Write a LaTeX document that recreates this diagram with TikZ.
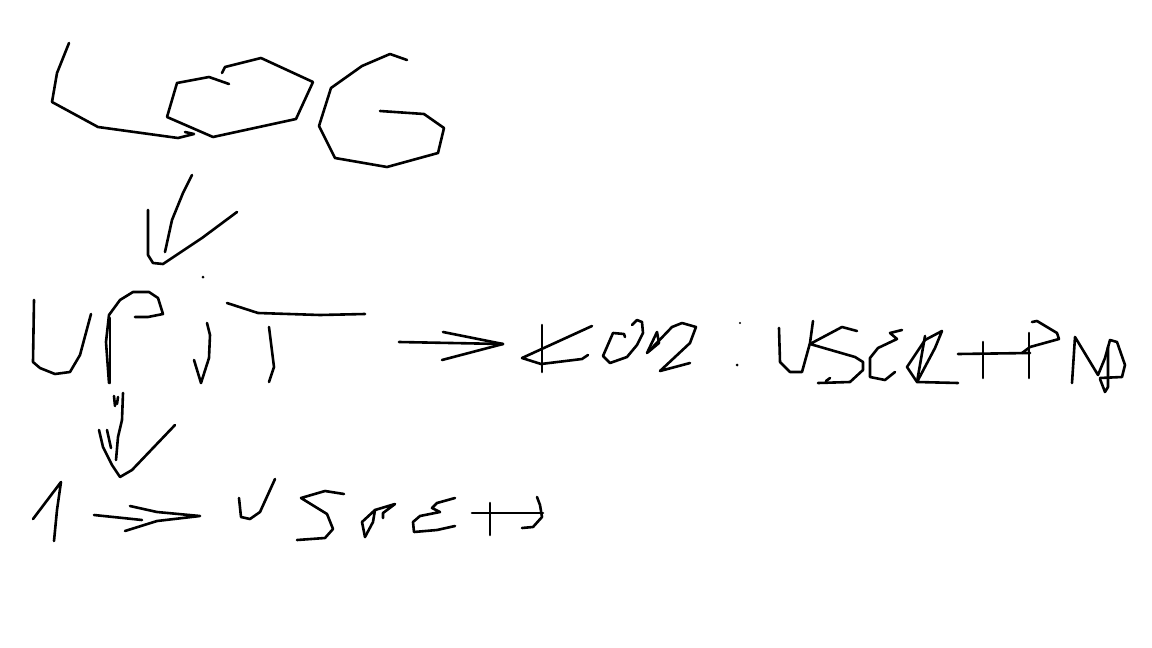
\documentclass[tikz,border=0pt]{standalone}
\usepackage{tikz}
\tikzstyle{ink}=[line width=2.6pt,line join=round,line cap=round]
\tikzstyle{inkdot}=[fill,inner sep=0pt,minimum size=3pt,circle]

\begin{document}
\begin{tikzpicture}[x=1pt,y=-1pt]
	\useasboundingbox[fill=white] (0,0) rectangle (1152,648);
	% LOG
	\draw[ink] (69,43) -- (57,73) -- (52,102) -- (98,127) -- (178,138) -- (194,134) -- (185,132);
	\draw[ink] (229,84) -- (209,77) -- (177,83) -- (167,117) -- (213,137) -- (296,119) -- (313,82) -- (261,58) -- (225,67) -- (222,73);
	\draw[ink] (407,60) -- (390,54) -- (362,66) -- (331,88) -- (319,126) -- (335,158) -- (387,167) -- (438,153) -- (444,128) -- (424,114) -- (380,111);
	% arrow down
	\draw[ink] (148,210) -- (148,255) -- (153,263) -- (163,264) -- (202,238) -- (237,212);
	\draw[ink] (192,175) -- (183,193) -- (172,220) -- (165,252);
	\node[inkdot] (d1) at (203,277) {};
	% UPIT
	\draw[ink] (34,300) -- (33,362) -- (40,368) -- (55,374) -- (70,372) -- (80,355) -- (91,314);
	\draw[ink] (109,383) -- (106,342) -- (109,315) -- (120,300) -- (133,292) -- (149,292) -- (158,298) -- (163,314) -- (148,317) -- (135,317);
	\draw[ink] (110,318) -- (110,383);
	\draw[ink] (207,323) -- (210,335) -- (209,358) -- (201,383) -- (194,360);
	\draw[ink] (227,303) -- (258,313) -- (320,315) -- (365,314);
	\draw[ink] (269,327) -- (274,367) -- (269,382);
	% arrow right
	\draw[ink] (399,342) -- (503,344);
	\draw[ink] (443,332) -- (503,344) -- (442,360);
	% KOD
	\draw[ink] (542,325) -- (542,372);
	\draw[ink] (592,326) -- (522,358) -- (541,364) -- (582,359) -- (588,355);
	\draw[ink] (625,337) -- (624,334) -- (613,333) -- (603,356) -- (610,363) -- (627,357) -- (637,345) -- (643,333) -- (642,322) -- (637,320) -- (632,325);
	\draw[ink] (647,353) -- (657,332) -- (659,343) -- (647,353);
	\draw[ink] (650,350) -- (672,327) -- (682,323) -- (696,327) -- (690,343) -- (660,371) -- (690,363);
	\node[inkdot,minimum size=2.4pt] (c1) at (740,323) {};
	\node[inkdot] (c2) at (737,365) {};
	% USER
	\draw[ink] (779,328) -- (780,362) -- (790,372) -- (802,372) -- (810,343) -- (813,321);
	\draw[ink] (857,331) -- (842,327) -- (810,344) -- (855,357) -- (863,362) -- (863,370) -- (850,382) -- (818,383);
	\draw[ink] (826,381) -- (830,378);
	\draw[ink] (902,330) -- (890,333) -- (897,339) -- (878,348) -- (870,358) -- (870,377) -- (885,380) -- (895,372);
	\draw[ink] (917,382) -- (907,367) -- (925,340) -- (942,331) -- (935,348) -- (917,382) -- (958,383);
	\draw[ink] (925,336) -- (917,382);
	% +
	\draw[ink] (958,354) -- (1030,353);
	\draw[ink] (983,342) -- (983,378);
	% PWD
	\draw[ink] (1029,333) -- (1029,378);
	\draw[ink] (1032,322) -- (1037,321) -- (1057,333) -- (1059,339) -- (1030,347) -- (1022,353);
	\draw[ink] (1072,383) -- (1075,337) -- (1098,375) -- (1105,358) -- (1110,340) -- (1117,342) -- (1125,365) -- (1122,377) -- (1100,378);
	\draw[ink] (1108,347) -- (1108,387) -- (1105,392) -- (1100,379);
	% arrow down
	\draw[ink] (123,393) -- (122,420) -- (118,437) -- (116,460);
	\draw[ink] (99,430) -- (103,447) -- (112,465) -- (120,477) -- (132,470) -- (175,425);
	\draw[ink] (107,430) -- (111,448);
	\draw[ink] (114,396) -- (115,406);
	\draw[ink] (118,397) -- (117,404);
	% 1 -> USPEH
	\draw[ink] (33,519) -- (61,482) -- (57,510) -- (54,541);
	\draw[ink] (94,515) -- (123,518) -- (142,520);
	\draw[ink] (130,506) -- (157,512) -- (200,516) -- (157,521) -- (125,531);
	\draw[ink] (275,479) -- (260,512) -- (250,519) -- (241,517) -- (239,498);
	\draw[ink] (344,494) -- (325,491) -- (301,498) -- (327,514) -- (333,529) -- (325,538) -- (297,540);
	\draw[ink] (365,537) -- (362,522) -- (375,510) -- (395,504) -- (383,513) -- (383,518);
	\draw[ink] (365,537) -- (373,522) -- (375,510);
	\draw[ink] (455,498) -- (437,503) -- (432,508) -- (440,512) -- (420,516) -- (413,522) -- (414,532) -- (437,530) -- (455,526);
	\draw[ink] (472,513) -- (543,513);
	\draw[ink] (490,503) -- (490,535);
	\draw[ink] (537,497) -- (540,505) -- (542,517) -- (533,527) -- (522,528);
\end{tikzpicture}
\end{document}
